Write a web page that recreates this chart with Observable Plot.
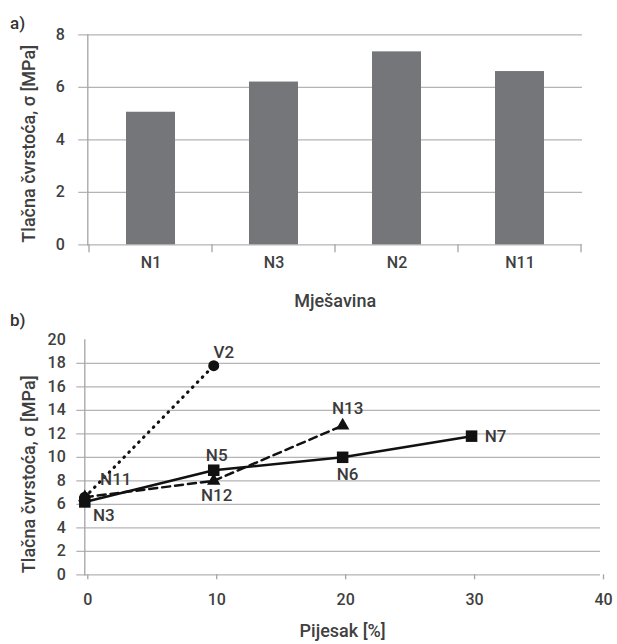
<!DOCTYPE html>
<html>
<head>
<meta charset="utf-8">
<script src="https://cdn.jsdelivr.net/npm/d3@7"></script>
<script src="https://cdn.jsdelivr.net/npm/@observablehq/plot@0.6"></script>
<style>
  html, body { margin: 0; padding: 0; background: #fff; }
  #wrap { position: relative; width: 617px; height: 644px; font-family: Roboto, sans-serif; }
  .tag { position: absolute; font-size: 17px; font-weight: 500; color: #333; line-height: 1; }
  .panel { position: absolute; left: 0; }
</style>
</head>
<body>
<div id="wrap">
  <div id="top" class="panel" style="top:0"></div>
  <div id="bot" class="panel" style="top:312px"></div>
  <div class="tag" style="left:10px;top:15px">a)</div>
  <div class="tag" style="left:10px;top:312px">b)</div>
</div>
<script>
// ---------- data: panel a ----------
const catsA = ["N1", "N3", "N2", "N11"];
const valsA = [5.05, 6.2, 7.35, 6.6];
const yTicksA = [0, 2, 4, 6, 8];

// ---------- data: panel b ----------
const sandSolid = [0, 10, 20, 30];
const strSolid = [6.2, 8.9, 10.0, 11.8];
const lblSolid = ["N3", "N5", "N6", "N7"];

const sandDash = [0, 10, 20];
const strDash = [6.6, 8.0, 12.7];
const lblDash = ["N11", "N12", "N13"];

const sandDot = [0, 10];
const strDot = [6.6, 17.8];
const lblDot = ["", "V2"];

const yTicksB = [0, 2, 4, 6, 8, 10, 12, 14, 16, 18, 20];
const gridB = [0, 2, 4, 6, 8, 10, 12, 14, 16, 18];
const xTicksB = [0, 10, 20, 30, 40];

const yTitle = "Tlačna čvrstoća, σ [MPa]";
const xTitleA = "Mješavina";
const xTitleB = "Pijesak [%]";

// ---------- styles ----------
const GRID = "#b4b4b8";
const AXIS = "#a4a4a8";
const TXT = "#404040";
const LBL = "#3a3a3a";
const FW = 500;
const labelOffsets = {
  N3: [19, 14], N5: [3, -15], N6: [5, 17], N7: [24, 0],
  N11: [31, -18], N12: [3, 15], N13: [5, -17], V2: [10, -13]
};

// ---------- panel a ----------
const barData = catsA.map((c, i) => ({cat: c, v: valsA[i]}));

const bandTicks = (index, scales, values, dim) => {
  const x = scales.x;
  const g = d3.create("svg:g");
  const step = x.step(), bw = x.bandwidth();
  const edges = catsA.map(c => x(c) - (step - bw) / 2);
  edges.push(x(catsA[catsA.length - 1]) + bw + (step - bw) / 2);
  const yb = dim.height - dim.marginBottom;
  for (const e of edges) {
    g.append("line").attr("x1", e).attr("x2", e).attr("y1", yb).attr("y2", yb + 8)
      .attr("stroke", AXIS).attr("stroke-width", 1.3);
  }
  return g.node();
};

const plotA = Plot.plot({
  width: 617, height: 312,
  marginTop: 34.3, marginBottom: 67.7, marginLeft: 87.3, marginRight: 35,
  style: {fontFamily: "Roboto, sans-serif", fontSize: "16px", color: TXT, background: "transparent"},
  x: {domain: catsA, paddingInner: 0.6, paddingOuter: 0.3, align: 0.5},
  y: {domain: [0, 8]},
  marks: [
    Plot.ruleY(yTicksA, {stroke: GRID, strokeWidth: 1.3, insetLeft: -9}),
    Plot.barY(barData, {x: "cat", y: "v", fill: "#757679"}),
    Plot.frame({anchor: "left", stroke: AXIS, strokeWidth: 1.3}),
    bandTicks,
    Plot.axisY(yTicksA, {tickSize: 0, tickPadding: 23, label: null, fontSize: 16, fontWeight: FW, fill: TXT}),
    Plot.axisX({tickSize: 0, tickPadding: 12, label: null, fontSize: 16, fontWeight: FW, fill: TXT}),
    Plot.text([xTitleA], {frameAnchor: "bottom", dy: 56, fontSize: 18, fontWeight: FW, fill: TXT, lineAnchor: "middle", textAnchor: "middle"}),
    Plot.text([yTitle], {frameAnchor: "left", rotate: -90, dx: -58.5, dy: 4, fontSize: 18, fontWeight: FW, fill: TXT, lineAnchor: "middle", textAnchor: "middle"})
  ]
});
document.getElementById("top").appendChild(plotA);

// ---------- panel b ----------
const mk = (xs, ys, ls) => xs.map((x, i) => ({x, y: ys[i], lbl: ls[i]}));
const dSolid = mk(sandSolid, strSolid, lblSolid);
const dDash = mk(sandDash, strDash, lblDash);
const dDot = mk(sandDot, strDot, lblDot);
const allLabeled = [...dSolid, ...dDash, ...dDot].filter(d => d.lbl);

const labelMarks = allLabeled.map(d => Plot.text([d], {
  x: "x", y: "y", text: "lbl",
  dx: labelOffsets[d.lbl][0], dy: labelOffsets[d.lbl][1],
  fontSize: 17, fontWeight: FW, fill: LBL, lineAnchor: "middle", textAnchor: "middle"
}));

const plotB = Plot.plot({
  width: 617, height: 332,
  marginTop: 27.3, marginBottom: 69.7, marginLeft: 84.3, marginRight: 17,
  style: {fontFamily: "Roboto, sans-serif", fontSize: "16px", color: TXT, background: "transparent"},
  x: {domain: [0, 40]},
  y: {domain: [0, 20]},
  marks: [
    Plot.ruleY(gridB, {stroke: GRID, strokeWidth: 1.3, insetLeft: -8}),
    Plot.frame({anchor: "left", stroke: AXIS, strokeWidth: 1.3}),
    Plot.axisX(xTicksB, {tickSize: 5, stroke: AXIS, strokeWidth: 1.3, tickPadding: 14, dx: 3, label: null, fontSize: 16, fontWeight: FW, fill: TXT}),
    Plot.axisY(yTicksB, {tickSize: 0, tickPadding: 19, label: null, fontSize: 16, fontWeight: FW, fill: TXT}),
    Plot.line(dDot, {x: "x", y: "y", stroke: "#111", strokeWidth: 3.2, strokeDasharray: "0.5,6.5", strokeLinecap: "round"}),
    Plot.line(dDash, {x: "x", y: "y", stroke: "#111", strokeWidth: 2.5, strokeDasharray: "8,5"}),
    Plot.line(dSolid, {x: "x", y: "y", stroke: "#111", strokeWidth: 2.5}),
    Plot.dot(dDot, {x: "x", y: "y", symbol: "circle", r: 5.5, fill: "#111"}),
    Plot.dot(dDash, {x: "x", y: "y", symbol: "triangle", r: 5, fill: "#111"}),
    Plot.dot(dSolid, {x: "x", y: "y", symbol: "square", r: 6.5, fill: "#111"}),
    ...labelMarks,
    Plot.text([xTitleB], {frameAnchor: "bottom", dy: 56, fontSize: 18, fontWeight: FW, fill: TXT, lineAnchor: "middle", textAnchor: "middle"}),
    Plot.text([yTitle], {frameAnchor: "left", rotate: -90, dx: -55.5, dy: 17, fontSize: 18, fontWeight: FW, fill: TXT, lineAnchor: "middle", textAnchor: "middle"})
  ]
});
document.getElementById("bot").appendChild(plotB);
</script>
</body>
</html>
